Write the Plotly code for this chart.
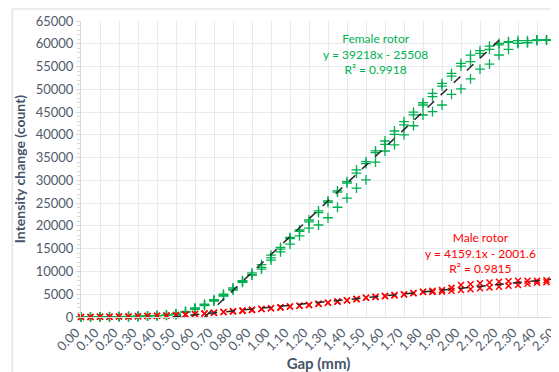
import plotly.graph_objects as go

gap = [0.00, 0.05, 0.10, 0.15, 0.20, 0.25, 0.30, 0.35, 0.40, 0.45,
       0.50, 0.55, 0.60, 0.65, 0.70, 0.75, 0.80, 0.85, 0.90, 0.95,
       1.00, 1.05, 1.10, 1.15, 1.20, 1.25, 1.30, 1.35, 1.40, 1.45,
       1.50, 1.55, 1.60, 1.65, 1.70, 1.75, 1.80, 1.85, 1.90, 1.95,
       2.00, 2.05, 2.10, 2.15, 2.20, 2.25, 2.30, 2.35, 2.40, 2.45, 2.50]

female_1 = [0, 10, 30, 50, 80, 120, 170, 230, 310, 420,
            700, 1250, 2000, 2800, 3800, 5000, 6400, 8000, 9700, 11500,
            13600, 15300, 17500, 19100, 21300, 23300, 25500, 27700, 29700, 32300,
            34100, 36500, 38650, 40850, 42900, 45000, 47050, 49100, 51300, 53500,
            55700, 57500, 58500, 59500, 60100, 60460, 60700, 60700, 60850, 60850, 60850]
female_2 = [0, 10, 20, 40, 70, 110, 160, 220, 300, 400,
            600, 1100, 1800, 2600, 3600, 4700, 6100, 7800, 9300, 10900,
            13000, 14900, 17200, 18800, 20900, 22900, 25200, 27400, 29400, 31600,
            33700, 36100, 37900, 40100, 42200, 44400, 46550, 48400, 50700, 52900,
            55100, 56100, 57900, 58750, 59750, 60300, 60100, 60250, 60800, 60800, 60850]
female_3 = [0, 10, 20, 40, 70, 100, 150, 210, 290, 380,
            550, 1000, 1700, 2500, 3500, 4600, 5900, 7600, 9200, 10500,
            12500, 14300, 16000, 17800, 19500, 20200, 21800, 24100, 26100, 28300,
            30100, 34000, 36450, 37800, 40000, 42000, 44360, 45100, 46550, 48900,
            50100, 52300, 54450, 55550, 57530, 58760, 60100, 60250, 60700, 60800, 60850]

male_1 = [0, 20, 40, 60, 90, 120, 160, 210, 270, 340,
          420, 520, 640, 780, 930, 1080, 1240, 1400, 1570, 1750,
          1940, 2120, 2300, 2480, 2650, 2900, 3150, 3400, 3660, 3950,
          4240, 4430, 4610, 4800, 4980, 5270, 5560, 5750, 5930, 6400,
          7030, 7200, 7400, 7580, 7760, 7850, 7980, 7980, 7980, 8050, 8130]
male_2 = [0, 20, 40, 60, 90, 120, 160, 210, 270, 340,
          420, 520, 640, 780, 930, 1080, 1240, 1400, 1570, 1750,
          1940, 2120, 2300, 2480, 2620, 2880, 3120, 3380, 3640, 3930,
          4220, 4410, 4590, 4780, 4960, 5230, 5500, 5500, 5560, 5750,
          5930, 6100, 6300, 6480, 6650, 6850, 7030, 7300, 7540, 7650, 7760]

female_slope, female_intercept = 39218, -25508
male_slope, male_intercept = 4159.1, -2001.6
female_fit_x = [0.6504, 2.20]
male_fit_x = [0.4813, 2.50]

x_ticks = [0.0, 0.1, 0.2, 0.3, 0.4, 0.5, 0.6, 0.7, 0.8, 0.9, 1.0, 1.1, 1.2,
           1.3, 1.4, 1.5, 1.6, 1.7, 1.8, 1.9, 2.0, 2.1, 2.2, 2.3, 2.4, 2.5]
x_tick_labels = ["0.00", "0.10", "0.20", "0.30", "0.40", "0.50", "0.60", "0.70",
                 "0.80", "0.90", "1.00", "1.10", "1.20", "1.30", "1.40", "1.50",
                 "1.60", "1.70", "1.80", "1.90", "2.00", "2.10", "2.20", "2.30",
                 "2.40", "2.50"]

GREEN = "#00b050"
RED = "#ff0000"
FONT = "Lato"
TICK_COLOR = "#4f5b6b"

fig = go.Figure()
for ys in (female_1, female_2, female_3):
    fig.add_trace(go.Scatter(
        x=gap, y=ys, mode="markers", showlegend=False, cliponaxis=False,
        marker=dict(symbol="cross-thin", size=7, line=dict(color=GREEN, width=1.3))))
for ys in (male_1, male_2):
    fig.add_trace(go.Scatter(
        x=gap, y=ys, mode="markers", showlegend=False, cliponaxis=False,
        marker=dict(symbol="x-thin", size=6, line=dict(color=RED, width=1.5))))

fig.add_trace(go.Scatter(
    x=female_fit_x, y=[female_slope * v + female_intercept for v in female_fit_x],
    mode="lines", showlegend=False, line=dict(color="#262626", width=1.5, dash="dash")))
fig.add_trace(go.Scatter(
    x=male_fit_x, y=[male_slope * v + male_intercept for v in male_fit_x],
    mode="lines", showlegend=False, line=dict(color="#262626", width=1.5, dash="dash")))

fig.add_annotation(x=1.55, y=52200, xref="x", yref="y", showarrow=False,
                   text="Female rotor<br>y = 39218x - 25508<br>R² = 0.9918",
                   font=dict(family=FONT, size=12, color=GREEN), align="center",
                   yanchor="bottom")
fig.add_annotation(x=2.1, y=8600, xref="x", yref="y", showarrow=False,
                   text="Male rotor<br>y = 4159.1x - 2001.6<br>R² = 0.9815",
                   font=dict(family=FONT, size=12, color=RED), align="center",
                   yanchor="bottom")

fig.add_shape(type="rect", xref="paper", yref="paper",
              x0=-0.145, x1=1.02, y0=-0.3, y1=1.0405,
              line=dict(color="#d9d9d9", width=1), layer="below")

fig.update_xaxes(range=[0, 2.5], tickvals=x_ticks, ticktext=x_tick_labels,
                 tickangle=-45, showgrid=True, gridcolor="#e7eaef", gridwidth=1,
                 zeroline=False, showline=True, linecolor="#d9d9d9",
                 ticklabeloverflow="allow", ticklabelshift=-5, ticklabelstandoff=2,
                 tickfont=dict(family=FONT, size=13, color=TICK_COLOR),
                 title=dict(text="<b>Gap (mm)</b>", standoff=2,
                            font=dict(family=FONT, size=15, color="#44546a")),
                 ticks="", automargin=False)
fig.update_yaxes(range=[0, 65000], dtick=5000, tickformat="d", showgrid=True,
                 gridcolor="#e7eaef",
                 zeroline=False, showline=True, linecolor="#d9d9d9",
                 ticks="outside", ticklen=4, tickcolor="#d9d9d9",
                 minor=dict(dtick=1000, ticks="outside", ticklen=3, tickcolor="#d9d9d9",
                            showgrid=False),
                 tickfont=dict(family=FONT, size=13, color=TICK_COLOR),
                 title=dict(text="<b>Intensity change (count)</b>", standoff=6,
                            font=dict(family=FONT, size=14, color="#44546a")),
                 automargin=False)

# the page body adds an 8px margin, so the figure is sized to fill the rest
fig.update_layout(width=551, height=364, plot_bgcolor="white", paper_bgcolor="white",
                  margin=dict(l=73, r=3, t=13, b=55))

fig.write_html("out.html")
